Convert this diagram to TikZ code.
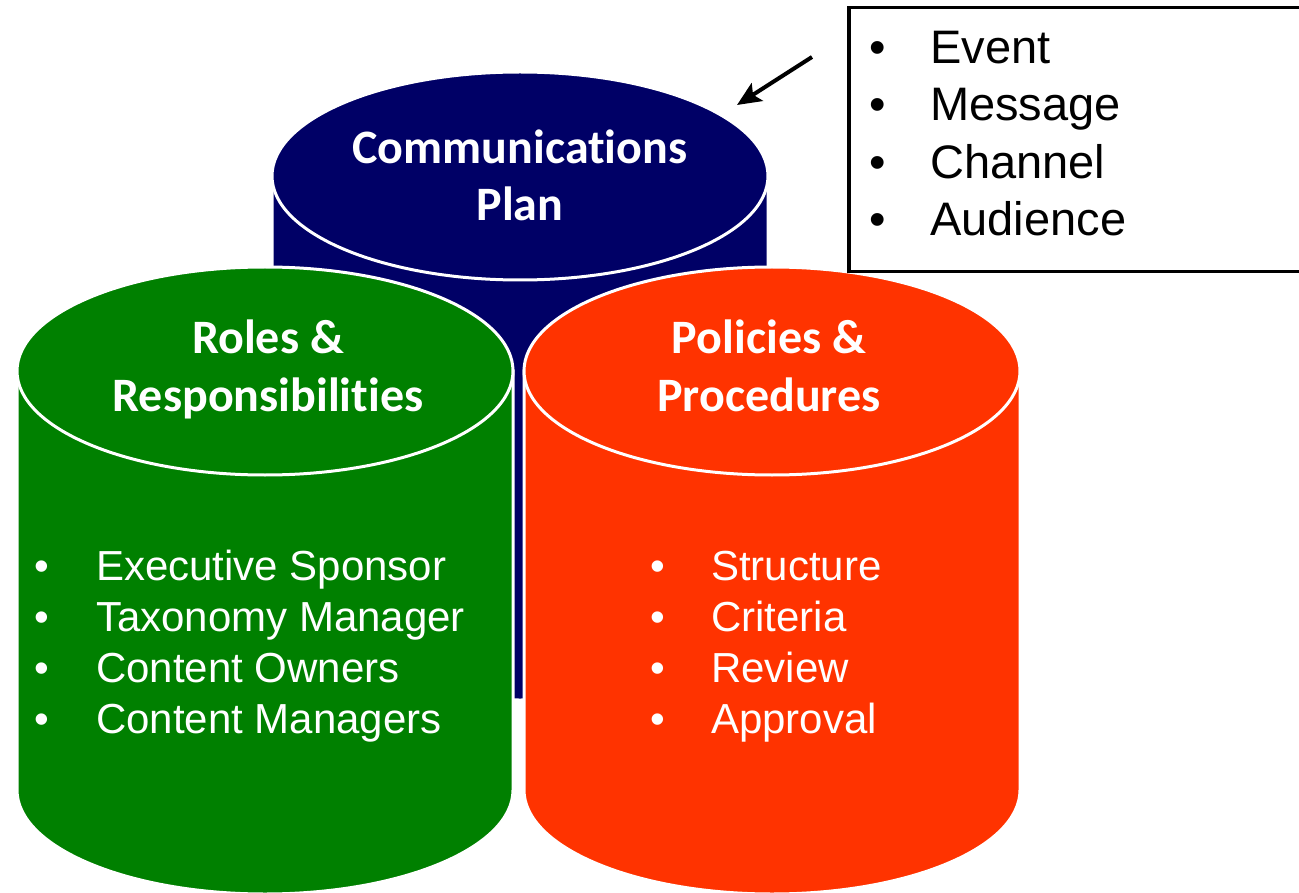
\documentclass[tikz,border=0pt]{standalone}
\usepackage{fontspec}
\setmainfont{Liberation Sans}
\newfontfamily\titlefont[Ligatures=NoCommon]{Carlito}
\usetikzlibrary{arrows.meta}
\definecolor{cylnavy}{RGB}{0,0,102}
\definecolor{cylgreen}{RGB}{0,128,0}
\definecolor{cylred}{RGB}{255,51,0}
\newcommand\drawcyl[4]{% cx, top cy, bottom cy, colour
  \filldraw[cyledge, fill=#4] (#1-248,#2) -- (#1-248,#3)
     .. controls (#1-248,#3+57.4) and (#1-137,#3+104) .. (#1,#3+104)
     .. controls (#1+137,#3+104) and (#1+248,#3+57.4) .. (#1+248,#3)
     -- (#1+248,#2) -- cycle;
  \filldraw[cyledge, fill=#4] (#1,#2) ellipse [x radius=248, y radius=104];
}
\begin{document}
\begin{tikzpicture}[x=1pt,y=-1pt,
  cyledge/.style={draw=white, line width=3pt},
  titletext/.style={text=white, font=\titlefont\bfseries\fontsize{48}{57}\selectfont, inner sep=0pt, anchor=base},
  listtext/.style={text=white, font=\fontsize{42}{51}\selectfont, inner sep=0pt, anchor=base west},
  listbullet/.style={text=white, font=\fontsize{42}{51}\selectfont, inner sep=0pt, anchor=base},
  boxtext/.style={text=black, font=\fontsize{47}{57}\selectfont, inner sep=0pt, anchor=base west},
  boxbullet/.style={text=black, font=\fontsize{47}{57}\selectfont, inner sep=0pt, anchor=base},
  legendbox/.style={draw=black, line width=3.5pt, fill=white, minimum width=453pt, minimum height=264pt, inner sep=0pt},
  pointer/.style={draw=black, line width=4pt, -{Stealth[length=24pt,width=21pt,inset=5pt]}}
]
\useasboundingbox (0,0) rectangle (1299,893);
\clip (0,0) rectangle (1299,893);

% cylinders
\drawcyl{520}{176}{596}{cylnavy}
\drawcyl{265}{371}{790}{cylgreen}
\drawcyl{772}{371}{790}{cylred}

% titles
\node[titletext] (commA) at (520,164) {Communications};
\node[titletext] (commB) at (520,221) {Plan};
\node[titletext] (rolesA) at (268,354) {Roles \&};
\node[titletext] (rolesB) at (268,411) {Responsibilities};
\node[titletext] (polA) at (769,354) {Policies \&};
\node[titletext] (polB) at (769,411) {Procedures};

% green list
\node[listbullet] (gb1) at (42,580) {•};
\node[listbullet] (gb2) at (42,631) {•};
\node[listbullet] (gb3) at (42,682) {•};
\node[listbullet] (gb4) at (42,733) {•};
\node[listtext] (gt1) at (96,580) {Executive Sponsor};
\node[listtext] (gt2) at (96,631) {Taxonomy Manager};
\node[listtext] (gt3) at (96,682) {Content Owners};
\node[listtext] (gt4) at (96,733) {Content Managers};

% red list
\node[listbullet] (rb1) at (658,580) {•};
\node[listbullet] (rb2) at (658,631) {•};
\node[listbullet] (rb3) at (658,682) {•};
\node[listbullet] (rb4) at (658,733) {•};
\node[listtext] (rt1) at (711,580) {Structure};
\node[listtext] (rt2) at (711,631) {Criteria};
\node[listtext] (rt3) at (711,682) {Review};
\node[listtext] (rt4) at (711,733) {Approval};

% legend box
\node[legendbox] (legend) at (1075.5,139.5) {};
\node[boxbullet] (bb1) at (878,64) {•};
\node[boxbullet] (bb2) at (878,121) {•};
\node[boxbullet] (bb3) at (878,179) {•};
\node[boxbullet] (bb4) at (878,236) {•};
\node[boxtext] (bt1) at (930,64) {Event};
\node[boxtext] (bt2) at (930,121) {Message};
\node[boxtext] (bt3) at (930,179) {Channel};
\node[boxtext] (bt4) at (930,236) {Audience};

% arrow
\coordinate (arrowstart) at (812,57);
\coordinate (arrowend) at (737,105);
\draw[pointer] (arrowstart) -- (arrowend);
\end{tikzpicture}
\end{document}
